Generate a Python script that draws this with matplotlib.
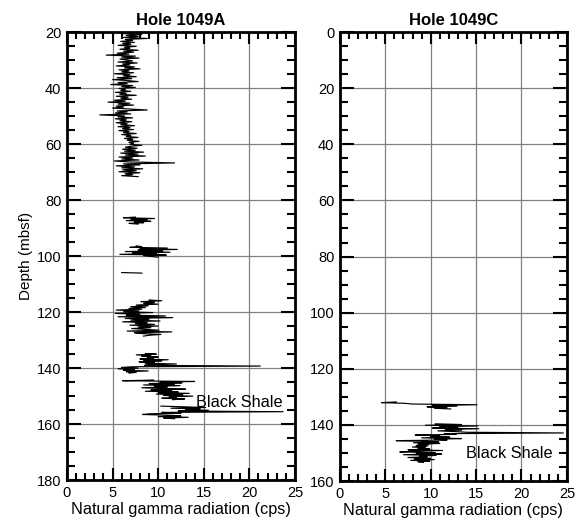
import numpy as np
import matplotlib.pyplot as plt
from matplotlib.ticker import MultipleLocator

plt.rcParams['font.family'] = ['Liberation Sans', 'DejaVu Sans']

# Hole 1049A log segments: (start depth, depth step, gamma values)
segA = [
    (20.2, 0.35, [7.0, 6.0, 8.2, 6.5, 7.8, 6.2, 8.8, 6.4, 7.2, 5.9,
                  7.4, 6.1, 7.0, 5.6, 7.6, 6.3, 6.9, 5.8, 7.8, 6.2,
                  7.3, 5.5, 6.8, 4.3, 7.5, 6.0, 7.9, 5.8, 6.6, 7.2,
                  5.6, 7.7, 6.1, 6.9, 5.4, 7.4, 6.3, 8.0, 5.7, 6.8,
                  6.0, 7.3, 5.2, 6.9, 6.2, 7.6, 5.5, 7.1, 5.0, 6.7,
                  7.8, 5.6, 6.6, 4.8, 7.2, 6.0, 7.5, 5.7, 6.4, 5.9,
                  7.0, 5.3, 6.5, 5.8, 7.6, 5.4, 6.7, 5.9, 7.1, 5.2,
                  6.4, 4.5, 6.9, 5.6, 7.3, 5.4, 6.2, 5.0, 6.8, 8.8,
                  5.5, 6.6, 5.3, 7.0, 3.6, 6.3, 5.6, 7.2, 5.3, 6.5,
                  5.8, 7.1, 5.4, 6.6, 5.9, 7.4, 5.6, 6.9, 6.1, 7.3,
                  5.7, 6.8, 6.2, 7.6, 6.0, 7.0, 6.5, 7.8, 6.3, 7.2,
                  6.6, 7.9, 6.8, 7.3, 6.9, 8.2, 7.0, 6.4, 7.7, 6.1,
                  7.5, 6.3, 8.4, 5.9, 7.8, 6.4, 8.6, 5.7, 7.2, 6.0,
                  7.9, 5.2, 6.8, 11.8, 6.2, 8.0, 5.4, 7.4, 6.0, 8.3,
                  6.1, 7.6, 5.7, 8.0, 6.4, 7.2, 6.0, 7.8]),
    (86.1, 0.25, [7.5, 6.2, 9.6, 7.0, 8.8, 6.5, 9.2, 7.4, 8.4, 6.8, 7.8]),
    (96.4, 0.25, [7.6, 8.2, 6.9, 11.0, 8.0, 12.1, 7.8, 10.5, 6.4, 11.3,
                  7.2, 9.8, 5.8, 10.9, 8.4, 9.2, 10.0]),
    (105.9, 0.2, [6.0, 8.2]),
    (115.7, 0.3, [9.0, 10.4, 8.1, 9.6, 8.4, 10.0, 7.6, 8.9, 7.0, 8.6,
                  6.8, 8.2, 5.4, 7.9, 6.2, 9.4, 5.3, 8.0, 6.5, 10.8,
                  5.6, 11.6, 6.4, 9.0, 7.0, 10.2, 6.1, 8.8, 7.5, 9.6,
                  6.9, 10.0, 7.8, 9.2, 7.1, 8.6, 10.1, 6.6, 11.5, 7.4,
                  8.2, 10.3, 9.0, 8.4]),
    (134.8, 0.25, [8.6, 9.8, 7.6, 9.2, 8.2, 10.0, 8.8, 9.5, 8.0, 11.1,
                   8.4, 10.4, 7.9, 9.6, 8.6, 12.0, 9.0, 8.5, 21.2, 7.2,
                   6.0, 7.8, 5.6, 7.4, 6.2, 8.9, 6.5, 7.6, 6.8]),
    (144.3, 0.25, [9.5, 6.1, 14.0, 10.2, 12.6, 9.0, 11.8, 8.4, 12.4, 9.6,
                   11.0, 8.2, 10.4, 13.0, 9.2, 11.5, 8.6, 12.2, 10.0, 13.4,
                   9.8, 12.7, 10.6, 13.8, 11.2, 12.0, 10.4, 12.9, 11.6]),
    (153.6, 0.25, [10.3, 12.8, 15.2, 11.4, 14.6, 13.0, 15.5, 12.2, 23.7, 10.4,
                   12.5, 9.0, 8.3, 11.2, 12.5, 10.0, 13.3, 10.6, 11.8]),
]

# Hole 1049C log segments
segC = [
    (131.8, 0.25, [6.2, 4.6, 7.2, 8.0, 15.1, 10.2, 12.9, 9.6, 11.8, 10.4, 12.2]),
    (139.6, 0.25, [10.5, 13.4, 9.4, 15.2, 11.0, 13.0, 10.2, 15.3, 11.6, 13.4,
                   10.8, 12.6, 14.0, 24.6, 11.5, 12.8, 8.3, 11.0, 10.0, 12.1,
                   9.0, 13.4, 10.4, 11.8, 6.2, 9.5, 10.9, 8.1, 11.0, 8.6,
                   9.8, 8.4, 9.6, 8.0, 9.4, 8.6, 9.9, 7.5, 11.3, 8.2,
                   6.6, 10.5, 8.4, 11.2, 7.0, 10.6, 8.8, 9.6, 7.5, 10.0,
                   8.2, 10.4, 7.8, 9.9, 8.6, 9.2]),
]


def build(segs):
    # join segments, NaN between so the line breaks at gaps
    d_all, v_all = [], []
    for start, step, vals in segs:
        d = start + step * np.arange(len(vals))
        d_all += list(d) + [np.nan]
        v_all += list(vals) + [np.nan]
    return np.array(d_all), np.array(v_all)


def style(ax, ymin, ymax):
    ax.set_xlim(0, 25)
    ax.set_ylim(ymax, ymin)
    ax.xaxis.set_major_locator(MultipleLocator(5))
    ax.xaxis.set_minor_locator(MultipleLocator(1))
    ax.yaxis.set_major_locator(MultipleLocator(20))
    ax.yaxis.set_minor_locator(MultipleLocator(5))
    ax.grid(True, which='major', color='#808080', lw=0.9)
    ax.set_axisbelow(True)
    ax.tick_params(which='both', direction='in', top=True, right=True,
                   width=1.5, labelsize=10.5, pad=4)
    ax.tick_params(axis='x', which='major', length=8.6)
    ax.tick_params(axis='x', which='minor', length=4.7)
    ax.tick_params(axis='y', which='major', length=10)
    ax.tick_params(axis='y', which='minor', length=5.8)
    for s in ax.spines.values():
        s.set_linewidth(2)
    ax.set_xlabel('Natural gamma radiation (cps)', fontsize=11.7, labelpad=2)


fig = plt.figure(figsize=(5.8, 5.31), dpi=100)
ax1 = fig.add_axes([0.1155, 0.096, 0.393, 0.8437])
ax2 = fig.add_axes([0.586, 0.094, 0.3914, 0.8457])

dA, vA = build(segA)
ax1.plot(vA, dA, color='black', lw=0.85)
style(ax1, 20, 180)
ax1.set_ylabel('Depth (mbsf)', fontsize=11, labelpad=3)
ax1.set_title('Hole 1049A', fontsize=12, fontweight='bold', pad=5)
ax1.text(14.1, 152.2, 'Black Shale', fontsize=11.7, va='center', ha='left')

dC, vC = build(segC)
ax2.plot(vC, dC, color='black', lw=0.85)
style(ax2, 0, 160)
ax2.set_title('Hole 1049C', fontsize=12, fontweight='bold', pad=5)
ax2.text(13.9, 150.0, 'Black Shale', fontsize=11.7, va='center', ha='left')

fig.savefig('out.png', dpi=100)
